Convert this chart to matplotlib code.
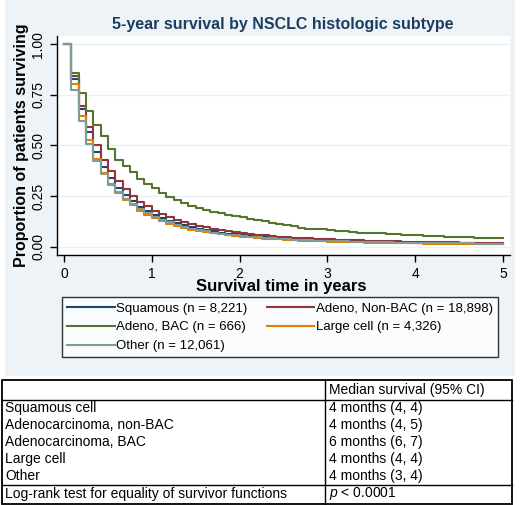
import matplotlib
matplotlib.use('Agg')
import matplotlib.pyplot as plt
from matplotlib.patches import Rectangle

plt.rcParams['font.family'] = ['Liberation Sans', 'DejaVu Sans']
plt.rcParams['mathtext.fontset'] = 'custom'
plt.rcParams['mathtext.it'] = 'Liberation Sans:italic'
plt.rcParams['mathtext.rm'] = 'Liberation Sans'

# Kaplan-Meier estimates, one value per month (0..60)
months = list(range(61))

squamous = [1.000, 0.830, 0.680, 0.565, 0.465, 0.392, 0.338, 0.290, 0.255, 0.223,
            0.197, 0.176, 0.158, 0.142, 0.128, 0.116, 0.106, 0.097, 0.089, 0.082,
            0.075, 0.069, 0.064, 0.060, 0.056, 0.052, 0.049, 0.046, 0.043, 0.041,
            0.039, 0.037, 0.035, 0.033, 0.032, 0.030, 0.029, 0.028, 0.027, 0.026,
            0.025, 0.024, 0.023, 0.022, 0.021, 0.021, 0.020, 0.019, 0.019, 0.018,
            0.018, 0.017, 0.016, 0.016, 0.015, 0.015, 0.015, 0.014, 0.014, 0.013,
            0.013]
adeno_nonbac = [1.000, 0.845, 0.695, 0.590, 0.500, 0.427, 0.372, 0.322, 0.282, 0.248,
                0.222, 0.199, 0.178, 0.160, 0.145, 0.132, 0.121, 0.111, 0.102, 0.094,
                0.087, 0.081, 0.075, 0.070, 0.066, 0.062, 0.058, 0.055, 0.052, 0.049,
                0.046, 0.044, 0.042, 0.040, 0.038, 0.036, 0.035, 0.033, 0.032, 0.031,
                0.030, 0.029, 0.028, 0.027, 0.026, 0.025, 0.024, 0.024, 0.023, 0.022,
                0.022, 0.021, 0.020, 0.020, 0.019, 0.019, 0.018, 0.018, 0.017, 0.017,
                0.016]
adeno_bac = [1.000, 0.860, 0.760, 0.670, 0.600, 0.545, 0.483, 0.428, 0.400, 0.367,
             0.332, 0.308, 0.288, 0.265, 0.244, 0.232, 0.213, 0.200, 0.190, 0.180,
             0.172, 0.165, 0.158, 0.152, 0.146, 0.138, 0.131, 0.124, 0.118, 0.112,
             0.106, 0.099, 0.092, 0.089, 0.089, 0.087, 0.082, 0.079, 0.075, 0.071,
             0.069, 0.068, 0.066, 0.065, 0.063, 0.061, 0.059, 0.057, 0.055, 0.053,
             0.052, 0.050, 0.049, 0.048, 0.046, 0.045, 0.044, 0.043, 0.042, 0.042,
             0.041]
large_cell = [1.000, 0.805, 0.645, 0.525, 0.435, 0.365, 0.310, 0.267, 0.232, 0.203,
              0.178, 0.158, 0.140, 0.125, 0.112, 0.101, 0.092, 0.084, 0.077, 0.071,
              0.065, 0.060, 0.056, 0.052, 0.048, 0.045, 0.042, 0.039, 0.037, 0.035,
              0.033, 0.031, 0.029, 0.028, 0.026, 0.025, 0.024, 0.023, 0.022, 0.021,
              0.020, 0.019, 0.018, 0.018, 0.017, 0.016, 0.016, 0.015, 0.015, 0.014,
              0.014, 0.013, 0.013, 0.012, 0.012, 0.012, 0.011, 0.011, 0.011, 0.010,
              0.010]
other = [1.000, 0.775, 0.620, 0.505, 0.423, 0.360, 0.305, 0.268, 0.236, 0.210,
         0.185, 0.165, 0.148, 0.133, 0.120, 0.108, 0.098, 0.089, 0.082, 0.075,
         0.069, 0.064, 0.059, 0.055, 0.052, 0.048, 0.045, 0.042, 0.040, 0.038,
         0.036, 0.034, 0.032, 0.031, 0.029, 0.028, 0.027, 0.026, 0.025, 0.024,
         0.023, 0.022, 0.021, 0.021, 0.020, 0.019, 0.019, 0.018, 0.018, 0.017,
         0.017, 0.016, 0.016, 0.015, 0.015, 0.015, 0.014, 0.014, 0.013, 0.013,
         0.013]

series_names = ['Squamous (n = 8,221)', 'Adeno, Non-BAC (n = 18,898)',
                'Adeno, BAC (n = 666)', 'Large cell (n = 4,326)', 'Other (n = 12,061)']
series_values = [squamous, adeno_nonbac, adeno_bac, large_cell, other]
series_colors = ['#1a476f', '#90353b', '#55752f', '#e37e00', '#7f9c97']

y_ticks = [0, 0.25, 0.5, 0.75, 1.0]
y_tick_labels = ['0.00', '0.25', '0.50', '0.75', '1.00']
x_ticks = [0, 1, 2, 3, 4, 5]

# table under the chart
table_rows = ['Squamous cell', 'Adenocarcinoma, non-BAC', 'Adenocarcinoma, BAC',
              'Large cell', 'Other']
table_medians = ['4 months (4, 4)', '4 months (4, 5)', '6 months (6, 7)',
                 '4 months (4, 4)', '4 months (3, 4)']
table_header = 'Median survival (95% CI)'
test_label = 'Log-rank test for equality of survivor functions'
test_value = '$p$ < 0.0001'

W, H = 528, 505
fig = plt.figure(figsize=(W / 100, H / 100), dpi=100)

# pixel-coordinate axes for background and table
tax = fig.add_axes([0, 0, 1, 1])
tax.set_xlim(0, W)
tax.set_ylim(H, 0)
tax.axis('off')
tax.add_patch(Rectangle((5, 0), 510, 376, color='#edf3f6', lw=0))

# main survival plot
ax = fig.add_axes([57 / W, 1 - 255 / H, 453 / W, 219 / H])
ax.set_facecolor('white')
years = [m / 12 for m in months]
lines = []
for name, vals, col in zip(series_names, series_values, series_colors):
    ln, = ax.plot(years, vals, drawstyle='steps-post', color=col, lw=1.5, label=name)
    lines.append(ln)

ax.set_xlim(-0.08, 5.08)
ax.set_ylim(-0.042, 1.041)
ax.set_yticks(y_ticks)
ax.set_yticklabels(y_tick_labels, rotation=90, va='center')
ax.set_xticks(x_ticks)
ax.tick_params(labelsize=10, length=5, width=1, color='black')
ax.yaxis.grid(True, color='#eaf1f3', lw=1)
ax.set_axisbelow(True)
for s in ['top', 'right']:
    ax.spines[s].set_visible(False)
for s in ['left', 'bottom']:
    ax.spines[s].set_linewidth(1)

fig.text(283 / W, 1 - 25 / H, '5-year survival by NSCLC histologic subtype',
         ha='center', va='center', fontsize=11.5, weight='bold', color='#1c3d5f')
fig.text(22 / W, 1 - 145 / H, 'Proportion of patients surviving', rotation=90,
         ha='center', va='center', fontsize=11.5, weight='bold')
fig.text(281 / W, 1 - 287 / H, 'Survival time in years',
         ha='center', va='center', fontsize=12, weight='bold')

# legend, filled row by row like Stata
order = [0, 2, 4, 1, 3]
leg = fig.legend([lines[i] for i in order], [series_names[i] for i in order],
                 loc='upper left', bbox_to_anchor=(62 / W, 1 - 359 / H, 436 / W, 62 / H),
                 mode='expand', ncol=2, fontsize=9.5, frameon=True, fancybox=False,
                 edgecolor='black', handlelength=3.6, handletextpad=0.1,
                 labelspacing=0.5, borderaxespad=0, borderpad=0.4)
leg.get_frame().set_linewidth(1)

# table
top, bot, split = 380, 504, 325
tax.add_patch(Rectangle((2, top), 510, bot - top, fill=False, ec='black', lw=1.3))
tax.plot([split, split], [top, bot], color='black', lw=1)
tax.plot([2, 512], [400, 400], color='black', lw=1)
tax.plot([2, 512], [485, 485], color='black', lw=1)
tax.text(split + 4, 390, table_header, va='center', fontsize=10)
for i, (r, m) in enumerate(zip(table_rows, table_medians)):
    y = 408 + i * 17
    tax.text(5, y, r, va='center', fontsize=10)
    tax.text(split + 4, y, m, va='center', fontsize=10)
tax.text(5, 494, test_label, va='center', fontsize=10)
tax.text(split + 4, 494, test_value, va='center', fontsize=10)

fig.savefig('out.png', dpi=100)
